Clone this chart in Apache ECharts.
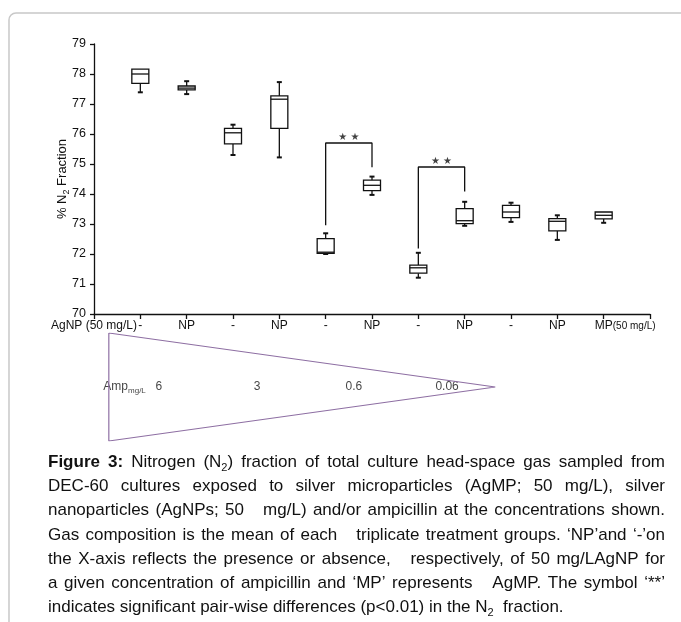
<!DOCTYPE html>
<html>
<head>
<meta charset="utf-8">
<script src="https://cdn.jsdelivr.net/npm/echarts@6/dist/echarts.min.js"></script>
<style>
  html, body { margin: 0; padding: 0; background: #fff; }
  #chart { width: 681px; height: 622px; }
</style>
</head>
<body>
<div id="chart"></div>
<script>
// x 轴标签（刻度 0..12）
const xLabels = ['AgNP (50 mg/L)', '-', 'NP', '-', 'NP', '-', 'NP', '-', 'NP', '-', 'NP', 'MP(50 mg/L)', ''];

// 箱线图数据 (% N2)
const boxPos    = [1, 2, 3, 4, 5, 6, 7, 8, 9, 10, 11];
const boxLow    = [77.39, 77.33, 75.30, 75.22, 72.00, 73.97, 71.21, 72.94, 73.07, 72.47, 73.04];
const boxQ1     = [77.69, 77.47, 75.67, 76.19, 72.02, 74.11, 71.36, 73.01, 73.21, 72.77, 73.17];
const boxMedian = [78.00, 77.53, 76.04, 77.16, 72.06, 74.29, 71.54, 73.11, 73.40, 73.09, 73.29];
const boxQ3     = [78.16, 77.60, 76.19, 77.27, 72.51, 74.46, 71.63, 73.51, 73.62, 73.18, 73.40];
const boxHigh   = [78.16, 77.76, 76.31, 77.73, 72.69, 74.58, 72.04, 73.74, 73.71, 73.29, 73.40];

// 显著性括号 **
const bracketA = [[5, 72.96], [5, 75.7], [6, 75.7], [6, 74.89]];
const bracketB = [[7, 72.18], [7, 74.9], [8, 74.9], [8, 74.08]];
const starMarks = [[5.5, 75.7], [7.5, 74.9]];

// 氨苄青霉素浓度三角形
const ampNames = ['Amp{s|mg/L}', '6', '3', '0.6', '0.06'];
const ampPos = [0.66, 1.4, 3.52, 5.61, 7.62];
const wedge = [[0.32, 1], [8.66, 0.5], [0.32, 0], [0.32, 1]];

// 图注
const captionLines = [
  '{b|Figure} {b|3:} Nitrogen (N{s|2}) fraction of total culture head-space gas sampled from',
  'DEC-60 cultures exposed to silver microparticles (AgMP; 50 mg/L), silver',
  'nanoparticles (AgNPs; 50   mg/L) and/or ampicillin at the concentrations shown.',
  'Gas composition is the mean of each   triplicate treatment groups. \u2018NP\u2019and \u2018-\u2019on',
  'the X-axis reflects the presence or absence,   respectively, of 50 mg/LAgNP for',
  'a given concentration of ampicillin and \u2018MP\u2019 represents   AgMP. The symbol \u2018**\u2019',
  'indicates significant pair-wise differences (p<0.01) in the N{s|2}  fraction.'
];

const FONT = 'Liberation Sans';
const INK = '#111';

// 图注两端对齐：逐词测量宽度
const ctx = document.createElement('canvas').getContext('2d');
const fontOf = k => (k === 'b' ? 'bold 17px ' : k === 's' ? '11px ' : '17px ') + '"' + FONT + '"';
function wordWidth(w) {
  let width = 0;
  const re = /\{(\w+)\|([^}]*)\}|([^{]+)/g;
  let m;
  while ((m = re.exec(w))) {
    ctx.font = fontOf(m[1] || 'n');
    width += ctx.measureText(m[1] ? m[2] : m[3]).width;
  }
  return width;
}
const capLeft = 48, capRight = 665, capTop = 462, capStep = 24.3;
const captionEls = [];
captionLines.forEach((line, li) => {
  const words = line.split(' ');
  const widths = words.map(wordWidth);
  const total = widths.reduce((a, b) => a + b, 0);
  ctx.font = fontOf('n');
  const last = li === captionLines.length - 1;
  const gap = last ? ctx.measureText(' ').width : (capRight - capLeft - total) / (words.length - 1);
  let x = capLeft;
  words.forEach((w, i) => {
    if (w) {
      captionEls.push({
        type: 'text', silent: true,
        style: {
          text: w, x: x, y: capTop + li * capStep,
          fill: INK, fontSize: 17, fontFamily: FONT, lineHeight: 22,
          align: 'left', verticalAlign: 'middle',
          rich: {
            b: { fontSize: 17, fontWeight: 'bold', fontFamily: FONT, lineHeight: 22, fill: INK },
            s: { fontSize: 11, fontFamily: FONT, lineHeight: 11, verticalAlign: 'bottom', fill: INK }
          }
        }
      });
    }
    x += widths[i] + gap;
  });
});

const chart = echarts.init(document.getElementById('chart'));

const option = {
  animation: false,
  backgroundColor: '#fff',
  grid: [
    { left: 94, right: 31, top: 44, bottom: 308, outerBoundsMode: 'none', containLabel: false },
    { left: 94, right: 31, top: 333, bottom: 181, outerBoundsMode: 'none', containLabel: false }
  ],
  xAxis: [
    {
      type: 'value', gridIndex: 0, min: 0, max: 12, interval: 1,
      axisLine: { show: true, onZero: false, lineStyle: { color: INK, width: 1.3 } },
      axisTick: { show: true, inside: false, length: 5, lineStyle: { color: INK, width: 1.3 } },
      splitLine: { show: false },
      axisLabel: {
        margin: 6, fontSize: 12, fontFamily: FONT, color: INK,
        showMinLabel: true, showMaxLabel: true,
        formatter: v => {
          const t = xLabels[Math.round(v)] || '';
          const m = t.match(/^(MP)(\(.*\))$/);
          return m ? '{pad|}' + m[1] + '{sm|' + m[2] + '}' : t;
        },
        rich: {
          pad: { width: 43 },
          sm: { fontSize: 10, fontFamily: FONT, color: INK }
        }
      }
    },
    { type: 'value', gridIndex: 1, min: 0, max: 12, show: false }
  ],
  yAxis: [
    {
      type: 'value', gridIndex: 0, min: 70, max: 79, interval: 1,
      name: '% N{s|2} Fraction', nameLocation: 'middle', nameGap: 23, nameRotate: 90,
      nameMoveOverlap: false,
      nameTextStyle: {
        fontSize: 13, fontFamily: FONT, color: INK, lineHeight: 18,
        rich: { s: { fontSize: 9, fontFamily: FONT, color: INK, lineHeight: 9, verticalAlign: 'bottom' } }
      },
      axisLine: { show: true, lineStyle: { color: INK, width: 1.3 } },
      axisTick: { show: true, inside: false, length: 4, lineStyle: { color: INK, width: 1.3 } },
      splitLine: { show: false },
      axisLabel: { margin: 8, fontSize: 12.5, fontFamily: FONT, color: INK }
    },
    { type: 'value', gridIndex: 1, min: 0, max: 1, show: false }
  ],
  series: [
    {
      type: 'custom',
      xAxisIndex: 0, yAxisIndex: 0,
      data: boxPos.map((p, i) => [p, boxLow[i], boxQ1[i], boxMedian[i], boxQ3[i], boxHigh[i]]),
      encode: { x: 0, y: [1, 2, 3, 4, 5] },
      renderItem: (params, api) => {
        const x = api.value(0);
        const lo = api.coord([x, api.value(1)]);
        const q1 = api.coord([x, api.value(2)]);
        const md = api.coord([x, api.value(3)]);
        const q3 = api.coord([x, api.value(4)]);
        const hi = api.coord([x, api.value(5)]);
        const cx = q1[0], half = 8.5, cap = 2.5;
        const ln = { stroke: INK, lineWidth: 1.3 };
        const children = [
          { type: 'line', shape: { x1: cx, y1: q3[1], x2: cx, y2: hi[1] }, style: ln },
          { type: 'line', shape: { x1: cx, y1: q1[1], x2: cx, y2: lo[1] }, style: ln },
          { type: 'rect', shape: { x: cx - half, y: q3[1], width: half * 2, height: q1[1] - q3[1] },
            style: { fill: '#fff', stroke: INK, lineWidth: 1.3 } },
          { type: 'line', shape: { x1: cx - half, y1: md[1], x2: cx + half, y2: md[1] }, style: ln }
        ];
        if (hi[1] < q3[1] - 0.5) children.push({ type: 'line', shape: { x1: cx - cap, y1: hi[1], x2: cx + cap, y2: hi[1] }, style: { stroke: INK, lineWidth: 2 } });
        if (lo[1] > q1[1] + 0.5) children.push({ type: 'line', shape: { x1: cx - cap, y1: lo[1], x2: cx + cap, y2: lo[1] }, style: { stroke: INK, lineWidth: 2 } });
        return { type: 'group', children };
      },
      z: 3
    },
    {
      type: 'line', xAxisIndex: 0, yAxisIndex: 0, data: bracketA,
      symbol: 'none', silent: true, lineStyle: { color: INK, width: 1.3 }
    },
    {
      type: 'line', xAxisIndex: 0, yAxisIndex: 0, data: bracketB,
      symbol: 'none', silent: true, lineStyle: { color: INK, width: 1.3 }
    },
    {
      type: 'scatter', xAxisIndex: 0, yAxisIndex: 0, data: starMarks,
      symbolSize: 1, silent: true, itemStyle: { color: 'rgba(0,0,0,0)' },
      label: {
        show: true, position: 'top', distance: 0, formatter: '\u2605 \u2605',
        fontSize: 10, fontFamily: 'DejaVu Sans', color: INK
      }
    },
    {
      type: 'line', xAxisIndex: 1, yAxisIndex: 1, data: wedge,
      symbol: 'none', silent: true, lineStyle: { color: '#8e6fa3', width: 1.2 }
    },
    {
      type: 'scatter', xAxisIndex: 1, yAxisIndex: 1,
      data: ampPos.map((p, i) => ({ value: [p, 0.5], name: ampNames[i] })),
      symbolSize: 1, silent: true, itemStyle: { color: 'rgba(0,0,0,0)' },
      label: {
        show: true, position: 'inside', formatter: '{b}',
        fontSize: 12, fontFamily: FONT, color: INK, lineHeight: 16,
        rich: { s: { fontSize: 8, fontFamily: FONT, color: INK, lineHeight: 8, verticalAlign: 'bottom' } }
      }
    }
  ],
  graphic: [
    {
      type: 'rect', silent: true,
      shape: { x: 9, y: 13, width: 700, height: 640, r: 7 },
      style: { fill: 'none', stroke: '#c8c8c8', lineWidth: 1.5 }
    }
  ].concat(captionEls)
};

chart.setOption(option);
</script>
</body>
</html>
